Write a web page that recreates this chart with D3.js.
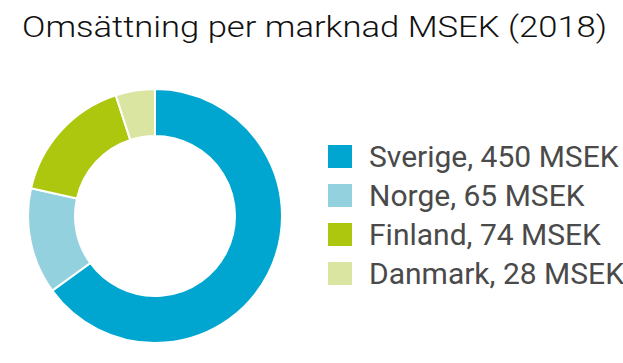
<!doctype html>
<html>
<head>
    <meta charset="utf-8">
    <script src="https://d3js.org/d3.v7.min.js"></script>
    <style>
        body { margin: 0; background: #fff; }
        svg { display: block; }
    </style>
</head>
<body>
    <svg width="623" height="363" id="mainsvg"></svg>
    <script>
        // data
        const title = "Omsättning per marknad MSEK (2018)";
        const markets = ["Sverige", "Norge", "Finland", "Danmark"];
        const revenue = [450, 65, 74, 28];          // MSEK, as in the legend
        const sliceShare = [65, 13.5, 16.5, 5];      // % of ring as drawn in the picture
        const colors = ["#00a6d0", "#94d1de", "#adc70f", "#dae5a1"];

        const svg = d3.select('#mainsvg');

        // title
        svg.append('text')
            .attr('x', 22)
            .attr('y', 37)
            .attr('font-family', 'Roboto, sans-serif')
            .attr('font-weight', 300)
            .attr('font-size', 30)
            .attr('fill', '#111')
            .attr('textLength', 585)
            .attr('lengthAdjust', 'spacingAndGlyphs')
            .text(title);

        // donut
        const cx = 155, cy = 216;
        const outerR = 127, innerR = 80;

        const pie = d3.pie().sort(null).value(d => d.share);
        const arc = d3.arc().innerRadius(innerR).outerRadius(outerR);

        const rows = markets.map((m, i) => ({name: m, value: revenue[i], share: sliceShare[i], color: colors[i]}));

        const g = svg.append('g').attr('transform', `translate(${cx}, ${cy})`);
        g.selectAll('path')
            .data(pie(rows))
            .join('path')
            .attr('d', arc)
            .attr('fill', d => d.data.color)
            .attr('stroke', '#fff')
            .attr('stroke-width', 2);

        // legend
        const y = d3.scalePoint().domain(markets).range([145, 262]);
        const items = svg.append('g').selectAll('g')
            .data(rows)
            .join('g')
            .attr('transform', d => `translate(328, ${y(d.name)})`);
        items.append('rect')
            .attr('width', 24)
            .attr('height', 23)
            .attr('fill', d => d.color);
        items.append('text')
            .attr('x', 41)
            .attr('y', 22)
            .attr('font-family', 'Roboto, sans-serif')
            .attr('font-weight', 400)
            .attr('font-size', 30)
            .attr('fill', '#4a4a4a')
            .text(d => `${d.name}, ${d.value} MSEK`);
    </script>
</body>
</html>
